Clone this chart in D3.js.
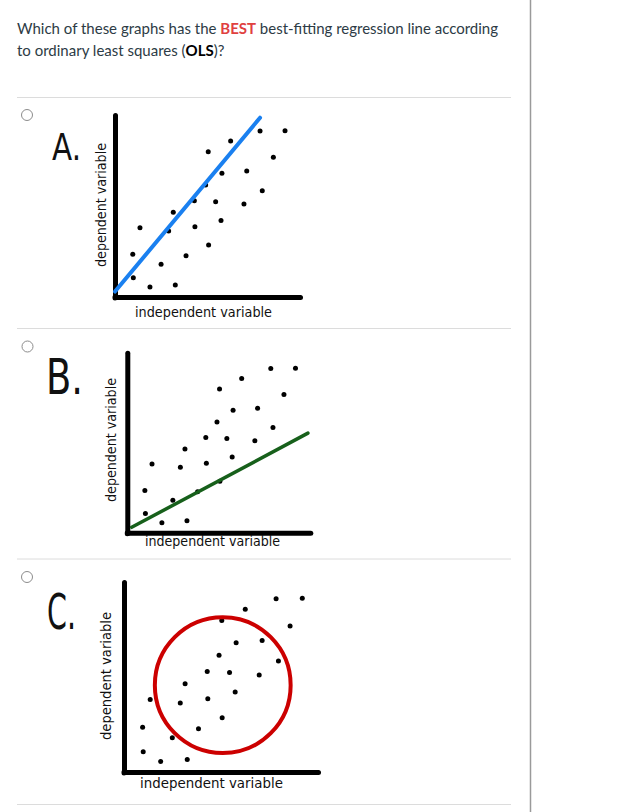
<!DOCTYPE html>
<html>
<head>
<meta charset="utf-8">
<script src="https://cdn.jsdelivr.net/npm/d3@7"></script>
<style>
  html, body { margin: 0; padding: 0; background: #ffffff; }
  svg { display: block; }
</style>
</head>
<body>
<svg id="chart" width="643" height="812"></svg>
<script>
// ---------------- data ----------------
const questionParts = [
  ["Which of these graphs has the ", "normal"],
  ["BEST", "best"],
  [" best-fitting regression line according", "normal"]
];
const questionLine2 = [
  ["to ordinary least squares (", "normal"],
  ["OLS", "bold"],
  [")?", "normal"]
];
const panelLetters = ["A.", "B.", "C."];
const xAxisTitle = "independent variable";
const yAxisTitle = "dependent variable";

// scatter points (same hand-drawn cloud in all three panels), units 0-100 of each axis
const dotX = [13.5, 9.6, 9.9, 18.9, 24.9, 31.5, 29.0, 32.6, 38.4, 43.2, 42.9, 50.4,
              50.6, 54.4, 57.3, 57.8, 49.0, 62.5, 69.7, 71.2, 78.4, 79.6, 85.6, 91.9];
const dotY = [38.1, 23.5, 10.6, 5.5, 18.0, 46.5, 36.3, 6.6, 22.7, 38.6, 52.9, 79.8,
              28.6, 52.4, 42.1, 68.0, 61.5, 85.7, 51.1, 69.2, 91.2, 58.4, 76.8, 91.4];

// panel A: steep (blue) line   [x1, y1, x2, y2]
const lineA = [0, 3.0, 78.4, 98.5];
// panel B: shallow (green) line
const lineB = [2.4, 3.0, 98.7, 55.3];
// panel C: circle  [cx, cy, r (x-units)]
const circleC = [50.9, 45.7, 35];

// ---------------- layout ----------------
const panels = [
  { ox: 115,   oy: 297,   w: 185, h: 182, letter: {x: 52, y: 160, fs: 38, len: 29},
    xt: {x: 135, y: 317, len: 137}, yt: {x: 106, y: 267, len: 124}, radio: {x: 27, y: 115} },
  { ox: 127.3, oy: 532.7, w: 183, h: 180, letter: {x: 46, y: 394, fs: 50, len: 37},
    xt: {x: 145, y: 546, len: 135}, yt: {x: 116, y: 502, len: 124}, radio: {x: 27.5, y: 346.5} },
  { ox: 124,   oy: 772,   w: 194, h: 190, letter: {x: 47, y: 629, fs: 50, len: 29},
    xt: {x: 140, y: 788, len: 143}, yt: {x: 111, y: 740, len: 128}, radio: {x: 27, y: 577} }
];
const separators = [97.5, 328.5, 559, 804.5];

const svg = d3.select("#chart");

// right-hand divider
svg.append("line").attr("x1", 530.5).attr("x2", 530.5).attr("y1", 0).attr("y2", 812)
  .attr("stroke", "#9a9a9a").attr("stroke-width", 1.5);

// separators
svg.selectAll("line.sep").data(separators).join("line").attr("class", "sep")
  .attr("x1", 17).attr("x2", 511).attr("y1", d => d).attr("y2", d => d)
  .attr("stroke", "#dcdcdc").attr("stroke-width", 1);

// question text
const qFont = "Lato, 'Open Sans', sans-serif";
function writeLine(parts, y) {
  const t = svg.append("text").attr("x", 17).attr("y", y)
    .attr("font-family", qFont).attr("font-size", 15).attr("fill", "#2d3b45");
  parts.forEach(([s, kind]) => {
    const ts = t.append("tspan").text(s);
    if (kind === "best") ts.attr("font-weight", "bold").attr("fill", "#e0403f");
    if (kind === "bold") ts.attr("font-weight", "bold").attr("fill", "#000");
  });
}
writeLine(questionParts, 34);
writeLine(questionLine2, 56);

const handFont = "'DejaVu Sans', sans-serif";

panels.forEach((p, i) => {
  const x = d3.scaleLinear().domain([0, 100]).range([p.ox, p.ox + p.w]);
  const y = d3.scaleLinear().domain([0, 100]).range([p.oy, p.oy - p.h]);
  const g = svg.append("g");

  // radio button
  g.append("circle").attr("cx", p.radio.x).attr("cy", p.radio.y).attr("r", 5.5)
    .attr("fill", "#fff").attr("stroke", "#8c8c8c").attr("stroke-width", 1);

  // big panel letter
  g.append("text").attr("x", p.letter.x).attr("y", p.letter.y)
    .attr("font-family", handFont).attr("font-size", p.letter.fs)
    .attr("textLength", p.letter.len).attr("lengthAdjust", "spacingAndGlyphs")
    .attr("fill", "#111").text(panelLetters[i]);

  // axes (no ticks), drawn thick like a marker
  const xa = g.append("g").attr("transform", `translate(0,${p.oy})`)
    .call(d3.axisBottom(x).tickValues([]).tickSizeOuter(0));
  const ya = g.append("g").attr("transform", `translate(${p.ox},0)`)
    .call(d3.axisLeft(y).tickValues([]).tickSizeOuter(0));
  [xa, ya].forEach(a => a.select(".domain").attr("stroke", "#000")
    .attr("stroke-width", 5).attr("stroke-linecap", "round"));
  // extend axes slightly past origin like the sketch
  g.append("line").attr("x1", x(0)).attr("x2", x(0)).attr("y1", y(0)).attr("y2", y(0) + 1)
    .attr("stroke", "#000").attr("stroke-width", 5).attr("stroke-linecap", "round");

  // axis titles
  g.append("text").attr("x", p.xt.x).attr("y", p.xt.y)
    .attr("font-family", handFont).attr("font-size", 14)
    .attr("textLength", p.xt.len).attr("lengthAdjust", "spacingAndGlyphs")
    .attr("fill", "#111").text(xAxisTitle);
  g.append("text").attr("transform", `translate(${p.yt.x},${p.yt.y}) rotate(-90)`)
    .attr("font-family", handFont).attr("font-size", 14)
    .attr("textLength", p.yt.len).attr("lengthAdjust", "spacingAndGlyphs")
    .attr("fill", "#111").text(yAxisTitle);

  // dots
  g.selectAll("circle.dot").data(dotX.map((d, k) => [d, dotY[k]])).join("circle")
    .attr("class", "dot").attr("cx", d => x(d[0])).attr("cy", d => y(d[1]))
    .attr("r", 2.5).attr("fill", "#000");

  // overlay
  if (i === 0 || i === 1) {
    const L = i === 0 ? lineA : lineB;
    g.append("line").attr("x1", x(L[0])).attr("y1", y(L[1]))
      .attr("x2", x(L[2])).attr("y2", y(L[3]))
      .attr("stroke", i === 0 ? "#1a80f0" : "#17601b")
      .attr("stroke-width", i === 0 ? 4 : 3.5).attr("stroke-linecap", "round");
  } else {
    g.append("circle").attr("cx", x(circleC[0])).attr("cy", y(circleC[1]))
      .attr("r", x(circleC[2]) - x(0))
      .attr("fill", "none").attr("stroke", "#cc0000").attr("stroke-width", 4);
  }
});
</script>
</body>
</html>
